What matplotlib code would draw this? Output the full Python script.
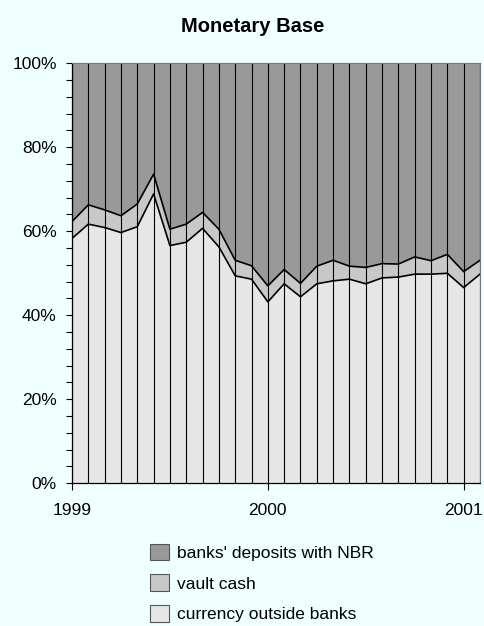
import numpy as np
import matplotlib
matplotlib.use("Agg")
import matplotlib.pyplot as plt
from matplotlib.ticker import MultipleLocator, FuncFormatter

# monthly shares, Jan 1999 .. Feb 2001 (percent of monetary base)
currency = [58.3, 61.7, 60.9, 59.7, 61.1, 68.9, 56.6, 57.4, 60.7, 56.3, 49.4, 48.6, 43.2,
            47.5, 44.4, 47.5, 48.2, 48.6, 47.5, 48.9, 49.1, 49.8, 49.8, 50.0, 46.6, 49.8]
cash_top = [62.3, 66.3, 65.1, 63.7, 66.5, 73.6, 60.5, 61.7, 64.5, 60.5, 53.1, 51.8, 47.0,
            50.9, 47.6, 51.7, 53.1, 51.7, 51.4, 52.3, 52.2, 53.9, 53.0, 54.5, 50.4, 53.1]
year_labels = ["1999", "2000", "2001"]
series_names = ["currency outside banks", "vault cash", "banks' deposits with NBR"]

cur = np.array(currency)
vault = np.array(cash_top) - cur
deposits = 100 - np.array(cash_top)
months = np.arange(len(cur))

plt.rcParams["font.family"] = ["Liberation Sans", "DejaVu Sans"]
BG = "#F0FFFF"

fig = plt.figure(figsize=(4.84, 6.26), dpi=100, facecolor=BG)
ax = fig.add_axes([72 / 484, 1 - 483.3 / 626, 408 / 484, 420 / 626])
ax.set_facecolor(BG)

colors = ["#E6E6E6", "#C8C8C8", "#999999"]
polys = ax.stackplot(months, cur, vault, deposits, colors=colors,
                     labels=series_names, edgecolor="none")
ax.plot(months, cur, color="black", lw=1.2)
ax.plot(months, cur + vault, color="black", lw=1.2)
ax.vlines(months, 0, 100, color="black", lw=0.8)

ax.set_xlim(0, len(cur) - 1)
ax.set_ylim(0, 100)
ax.set_xticks([0, 12, 24])
ax.set_xticklabels(year_labels)
ax.yaxis.set_major_locator(MultipleLocator(20))
ax.yaxis.set_minor_locator(MultipleLocator(4))
ax.yaxis.set_major_formatter(FuncFormatter(lambda v, p: "%d%%" % v))
ax.tick_params(axis="y", which="both", length=4, width=0.8, pad=7, labelsize=12.5)
ax.tick_params(axis="x", length=5, width=0.8, pad=9, labelsize=12.5)
for s in ["top", "right"]:
    ax.spines[s].set_color("#777777")
    ax.spines[s].set_linewidth(0.8)
for s in ["left", "bottom"]:
    ax.spines[s].set_linewidth(0.9)

fig.text(253 / 484, 1 - 26 / 626, "Monetary Base", ha="center", va="center",
         fontsize=14.5, fontweight="bold")

leg = fig.legend(polys[::-1], series_names[::-1], loc="upper left",
                 bbox_to_anchor=(141 / 484, 1 - 535 / 626), frameon=False,
                 fontsize=12.5, handlelength=1.1, handleheight=1.1,
                 handletextpad=0.45, labelspacing=0.77, borderpad=0)
for p in leg.get_patches():
    p.set_edgecolor("#555555")
    p.set_linewidth(0.8)

fig.savefig("out.png", dpi=100, facecolor=BG)
